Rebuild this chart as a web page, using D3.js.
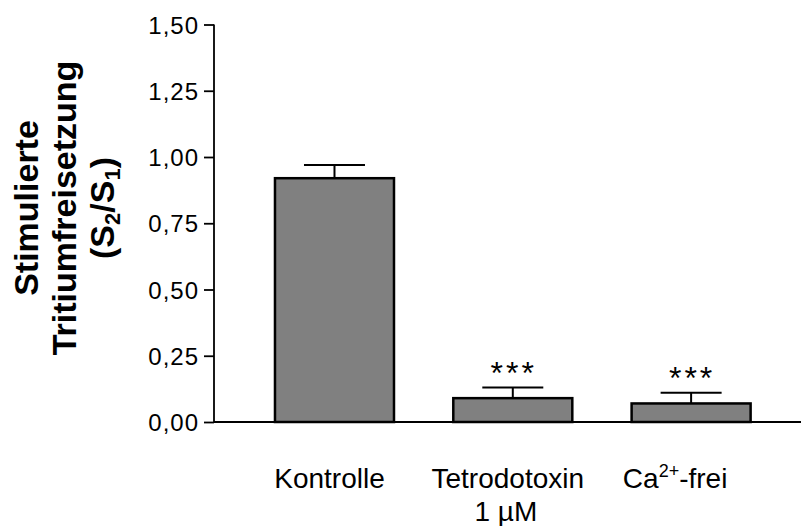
<!DOCTYPE html>
<html>
<head>
<meta charset="utf-8">
<script src="https://cdn.jsdelivr.net/npm/d3@7"></script>
<style>
  html, body { margin: 0; padding: 0; background: #fff; }
  svg { display: block; font-family: "Liberation Sans", Arial, Helvetica, sans-serif; }
</style>
</head>
<body>
<svg id="chart" width="801" height="526"></svg>
<script>
// Stimulated tritium release (S2/S1) per condition, mean ± SEM
const groups = ["Kontrolle", "Tetrodotoxin", "Ca-frei"];
const means = [0.92, 0.09, 0.07];
const sems = [0.05, 0.04, 0.04];
const stars = ["", "***", "***"];
const yTicks = [0, 0.25, 0.5, 0.75, 1.0, 1.25, 1.5];
const yTickLabels = ["0,00", "0,25", "0,50", "0,75", "1,00", "1,25", "1,50"];

const svg = d3.select("#chart");
const W = 801;

const x = d3.scaleBand()
  .domain(groups)
  .range([214, 811.6])
  .paddingInner(0.3326)
  .paddingOuter(0.342);

const y = d3.scaleLinear().domain([0, 1.5]).range([422, 24.5]);

// bars
svg.append("g").selectAll("rect")
  .data(groups)
  .join("rect")
  .attr("x", d => x(d))
  .attr("y", (d, i) => y(means[i]))
  .attr("width", x.bandwidth())
  .attr("height", (d, i) => y(0) - y(means[i]))
  .attr("fill", "#808080")
  .attr("stroke", "#000")
  .attr("stroke-width", 2.5);

// error bars (upper whisker only)
const capHalf = 30.5;
const eb = svg.append("g").attr("stroke", "#000").attr("stroke-width", 2);
groups.forEach((g, i) => {
  const cx = x(g) + x.bandwidth() / 2;
  eb.append("line").attr("x1", cx).attr("x2", cx)
    .attr("y1", y(means[i])).attr("y2", y(means[i] + sems[i]));
  eb.append("line").attr("x1", cx - capHalf).attr("x2", cx + capHalf)
    .attr("y1", y(means[i] + sems[i])).attr("y2", y(means[i] + sems[i]));
});

// significance marks
svg.append("g").selectAll("text")
  .data(groups)
  .join("text")
  .attr("x", d => x(d) + x.bandwidth() / 2 + 1)
  .attr("y", (d, i) => y(means[i] + sems[i]) - 4)
  .attr("text-anchor", "middle")
  .attr("font-size", 32)
  .attr("letter-spacing", 3)
  .attr("fill", "#000")
  .text((d, i) => stars[i]);

// y axis
const yAxis = d3.axisLeft(y)
  .tickValues(yTicks)
  .tickFormat((d, i) => yTickLabels[i])
  .tickSize(10)
  .tickPadding(5);

const ga = svg.append("g").attr("transform", "translate(214,0)").call(yAxis);
ga.select(".domain").attr("stroke", "#000").attr("stroke-width", 1.8)
  .attr("d", `M0,${y(1.5)}V${y(0)}`);
ga.selectAll(".tick line").attr("stroke", "#000").attr("stroke-width", 1.8);
ga.selectAll(".tick text")
  .attr("font-family", "Liberation Sans, Arial, sans-serif")
  .attr("font-size", 24)
  .attr("letter-spacing", 1)
  .attr("fill", "#000")
  .attr("dy", "0.36em");

// x axis baseline
svg.append("line")
  .attr("x1", 214).attr("x2", W)
  .attr("y1", y(0)).attr("y2", y(0))
  .attr("stroke", "#000").attr("stroke-width", 1.8);

// category labels
const lab = svg.append("g").attr("font-size", 28).attr("fill", "#000").attr("text-anchor", "middle");
const cx0 = x("Kontrolle") + x.bandwidth() / 2;
const cx1 = x("Tetrodotoxin") + x.bandwidth() / 2;
const cx2 = x("Ca-frei") + x.bandwidth() / 2;
lab.append("text").attr("x", cx0 - 5).attr("y", 488).text("Kontrolle");
lab.append("text").attr("x", cx1 - 5).attr("y", 488).text("Tetrodotoxin");
lab.append("text").attr("x", cx1 - 7).attr("y", 521).text("1 µM");
const ca = lab.append("text").attr("x", cx2 - 16).attr("y", 488);
ca.append("tspan").text("Ca");
ca.append("tspan").attr("font-size", 18).attr("dy", -11).text("2+");
ca.append("tspan").attr("dy", 11).text("-frei");

// y axis title
const t = svg.append("text")
  .attr("transform", "translate(38,208) rotate(-90)")
  .attr("text-anchor", "middle")
  .attr("font-weight", "bold")
  .attr("font-size", 34)
  .attr("fill", "#000");
t.append("tspan").attr("x", 0).attr("y", 0).text("Stimulierte");
t.append("tspan").attr("x", 0).attr("y", 38).text("Tritiumfreisetzung");
const t3 = t.append("tspan").attr("x", 0).attr("y", 76);
t3.text("(S");
t.append("tspan").attr("font-size", 22).attr("dy", 6).text("2");
t.append("tspan").attr("dy", -6).text("/S");
t.append("tspan").attr("font-size", 22).attr("dy", 6).text("1");
t.append("tspan").attr("dy", -6).text(")");
</script>
</body>
</html>
